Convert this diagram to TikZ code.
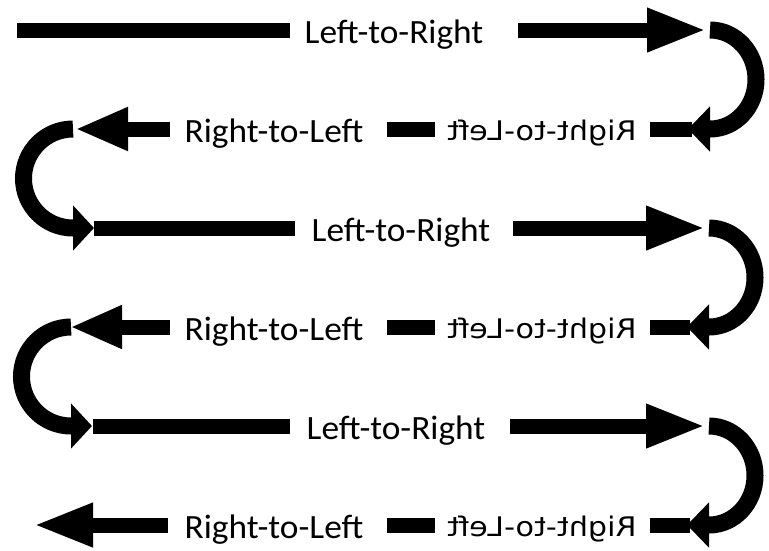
\documentclass[tikz,border=0pt]{standalone}
\usepackage{fontspec}
\setmainfont{Carlito}
\newfontfamily\mirrorfont{DejaVu Sans}
\usetikzlibrary{arrows.meta}
\begin{document}
\begin{tikzpicture}[x=1pt,y=-1pt,
  bar/.style={line width=15pt,line cap=butt,black},
  curve/.style={line width=17pt,line cap=butt,black},
  bighead/.style={-{Triangle[length=60pt,width=40pt]}},
  smallhead/.style={-{Triangle[length=22pt,width=44pt]}},
  txt/.style={anchor=base,inner sep=0pt,xscale=1.04,font=\fontsize{34}{34}\selectfont},
  mtxt/.style={anchor=base,inner sep=0pt,xscale=-1.12,font=\mirrorfont\fontsize{27}{27}\selectfont}]
\useasboundingbox (0,0) rectangle (769,550);
% row 1
\node[txt] (t1) at (394,43) {Left-to-Right};
\draw[bar] (17,30) -- (290,30);
\draw[bar,bighead] (518,30) -- (707,30);
\draw[curve,smallhead] (710,30) arc[start angle=-90,end angle=90,x radius=46,y radius=49.5] -- (688,129);
% row 2
\node[txt] (t2) at (274,142) {Right-to-Left};
\node[mtxt] (m2) at (542,140) {Right-to-Left};
\draw[bar] (650,129) -- (692,129);
\draw[bar] (387,129) -- (435,129);
\draw[bar,-{Triangle[length=53pt,width=40pt]}] (170,129) -- (75,129);
\draw[curve,-{Triangle[length=21pt,width=44pt]}] (73,129) arc[start angle=-90,end angle=-270,radius=49.5] -- (94,228);
% row 3
\node[txt] (t3) at (401,241) {Left-to-Right};
\draw[bar] (94,228) -- (295,228);
\draw[bar,bighead] (513,228) -- (706,228);
\draw[curve,smallhead] (709,228) arc[start angle=-90,end angle=90,x radius=46,y radius=49.5] -- (687,327);
% row 4
\node[txt] (t4) at (274,340) {Right-to-Left};
\node[mtxt] (m4) at (542,338) {Right-to-Left};
\draw[bar] (650,327) -- (690,327);
\draw[bar] (387,327) -- (435,327);
\draw[bar,-{Triangle[length=52pt,width=40pt]}] (170,327) -- (70,327);
\draw[curve,-{Triangle[length=21pt,width=44pt]}] (71,327) arc[start angle=-90,end angle=-270,radius=49.5] -- (92,426);
% row 5
\node[txt] (t5) at (396,439) {Left-to-Right};
\draw[bar] (93,426) -- (290,426);
\draw[bar,bighead] (510,426) -- (706,426);
\draw[curve,smallhead] (709,426) arc[start angle=-90,end angle=90,x radius=46,y radius=49.5] -- (687,525);
% row 6
\node[txt] (t6) at (274,538) {Right-to-Left};
\node[mtxt] (m6) at (542,536) {Right-to-Left};
\draw[bar] (650,525) -- (690,525);
\draw[bar] (387,525) -- (435,525);
\draw[bar,bighead] (168,525) -- (33,525);
\end{tikzpicture}
\end{document}
